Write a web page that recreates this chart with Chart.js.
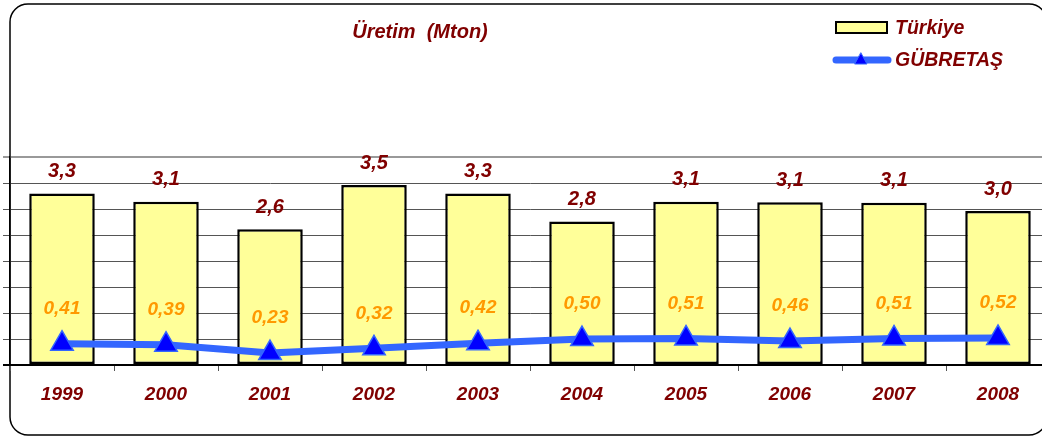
<!DOCTYPE html>
<html>
<head>
<meta charset="utf-8">
<script src="https://cdn.jsdelivr.net/npm/chart.js@4"></script>
<style>
  html, body { margin: 0; padding: 0; background: #fff; overflow: hidden; }
  #wrap { width: 1052px; height: 437px; }
</style>
</head>
<body>
<div id="wrap"><canvas id="chart" width="1052" height="437"></canvas></div>
<script>
// données
const years = ['1999', '2000', '2001', '2002', '2003', '2004', '2005', '2006', '2007', '2008'];
const turkiye = [3.30, 3.14, 2.61, 3.46, 3.30, 2.76, 3.14, 3.13, 3.12, 2.96];
const gubretas = [0.41, 0.39, 0.23, 0.32, 0.42, 0.50, 0.51, 0.46, 0.51, 0.52];
const yTicks = [0, 0.5, 1, 1.5, 2, 2.5, 3, 3.5, 4];

const FONT = '"Liberation Sans", Arial, sans-serif';
const DARKRED = '#800000';
const ORANGE = '#FF9900';
const BLUE_LINE = '#3366FF';

const fmt = (v, d) => v.toFixed(d).replace('.', ',');

// cadre arrondi + titre + légende
const decor = {
  id: 'decor',
  beforeDraw(chart) {
    const ctx = chart.ctx;
    ctx.save();
    ctx.fillStyle = '#fff';
    ctx.fillRect(0, 0, chart.width, chart.height);
    ctx.strokeStyle = '#000';
    ctx.lineWidth = 1.5;
    ctx.beginPath();
    ctx.roundRect(10, 4, 1037, 431, 18);
    ctx.stroke();
    ctx.restore();
  },
  afterDraw(chart) {
    const ctx = chart.ctx;
    ctx.save();
    ctx.font = 'italic bold 20px ' + FONT;
    ctx.fillStyle = DARKRED;
    ctx.textAlign = 'center';
    ctx.textBaseline = 'middle';
    ctx.fillText('Üretim  (Mton)', 420, 32);

    // légende
    ctx.font = 'italic bold 19.5px ' + FONT;
    ctx.textAlign = 'left';
    ctx.fillStyle = '#FFFF99';
    ctx.fillRect(836, 22, 51, 11);
    ctx.strokeStyle = '#000';
    ctx.lineWidth = 2;
    ctx.strokeRect(836, 22, 51, 11);
    ctx.fillStyle = DARKRED;
    ctx.fillText(chart.data.datasets[0].label, 895, 29);

    ctx.strokeStyle = BLUE_LINE;
    ctx.lineWidth = 7;
    ctx.lineCap = 'round';
    ctx.beginPath();
    ctx.moveTo(836, 60);
    ctx.lineTo(888, 60);
    ctx.stroke();
    ctx.fillStyle = '#0000FF';
    ctx.strokeStyle = BLUE_LINE;
    ctx.lineWidth = 1;
    ctx.beginPath();
    ctx.moveTo(861, 53);
    ctx.lineTo(867, 64);
    ctx.lineTo(855, 64);
    ctx.closePath();
    ctx.fill();
    ctx.stroke();
    ctx.fillStyle = DARKRED;
    ctx.fillText(chart.data.datasets[1].label, 895, 61);
    ctx.restore();
  }
};

// étiquettes de valeurs
const valueLabels = {
  id: 'valueLabels',
  afterDatasetsDraw(chart) {
    const ctx = chart.ctx;
    ctx.save();
    ctx.font = 'italic bold 20px ' + FONT;
    ctx.textAlign = 'center';
    ctx.textBaseline = 'middle';
    chart.getDatasetMeta(0).data.forEach((bar, i) => {
      ctx.fillStyle = DARKRED;
      ctx.fillText(fmt(turkiye[i], 1), bar.x, bar.y - 22);
    });
    ctx.font = 'italic bold 19px ' + FONT;
    chart.getDatasetMeta(1).data.forEach((pt, i) => {
      ctx.fillStyle = ORANGE;
      ctx.fillText(fmt(gubretas[i], 2), pt.x, pt.y - 35);
    });
    ctx.restore();
  }
};

new Chart(document.getElementById('chart'), {
  type: 'bar',
  data: {
    labels: years,
    datasets: [
      {
        type: 'bar',
        label: 'Türkiye',
        data: turkiye,
        backgroundColor: '#FFFF99',
        borderColor: '#000',
        borderWidth: 2.5,
        borderSkipped: false,
        barPercentage: 0.63,
        categoryPercentage: 1,
        order: 2
      },
      {
        type: 'line',
        label: 'GÜBRETAŞ',
        data: gubretas,
        borderColor: BLUE_LINE,
        borderWidth: 7,
        pointStyle: 'triangle',
        pointRadius: 13,
        pointBackgroundColor: '#0000FF',
        pointBorderColor: BLUE_LINE,
        pointBorderWidth: 1.5,
        tension: 0,
        order: 1
      }
    ]
  },
  options: {
    responsive: false,
    animation: false,
    layout: { autoPadding: false, padding: { top: 157, left: 3, right: 2, bottom: 32 } },
    plugins: { legend: { display: false }, tooltip: { enabled: false }, title: { display: false } },
    scales: {
      x: {
        offset: true,
        grid: { offset: true, drawOnChartArea: false, tickLength: 6, color: '#555', lineWidth: 1 },
        border: { color: '#000', width: 2 },
        ticks: {
          padding: 12,
          maxRotation: 0,
          autoSkip: false,
          color: DARKRED,
          font: { family: FONT, size: 19, style: 'italic', weight: 'bold' }
        },
        afterFit(scale) {
          scale.height = 40;
          scale.paddingLeft = 0;
          scale.paddingRight = 0;
        }
      },
      y: {
        min: 0,
        max: 4,
        afterBuildTicks(scale) { scale.ticks = yTicks.map(v => ({ value: v })); },
        afterFit(scale) { scale.width = 7; },
        grid: {
          tickLength: 7,
          color: (c) => c.tick && c.tick.value === 4 ? '#999' : (c.tick && c.tick.value === 0 ? '#000' : '#555'),
          lineWidth: (c) => c.tick && (c.tick.value === 4 || c.tick.value === 0) ? 2 : 1
        },
        border: { color: '#000', width: 1.5 },
        ticks: { display: false }
      }
    }
  },
  plugins: [decor, valueLabels]
});
</script>
</body>
</html>
